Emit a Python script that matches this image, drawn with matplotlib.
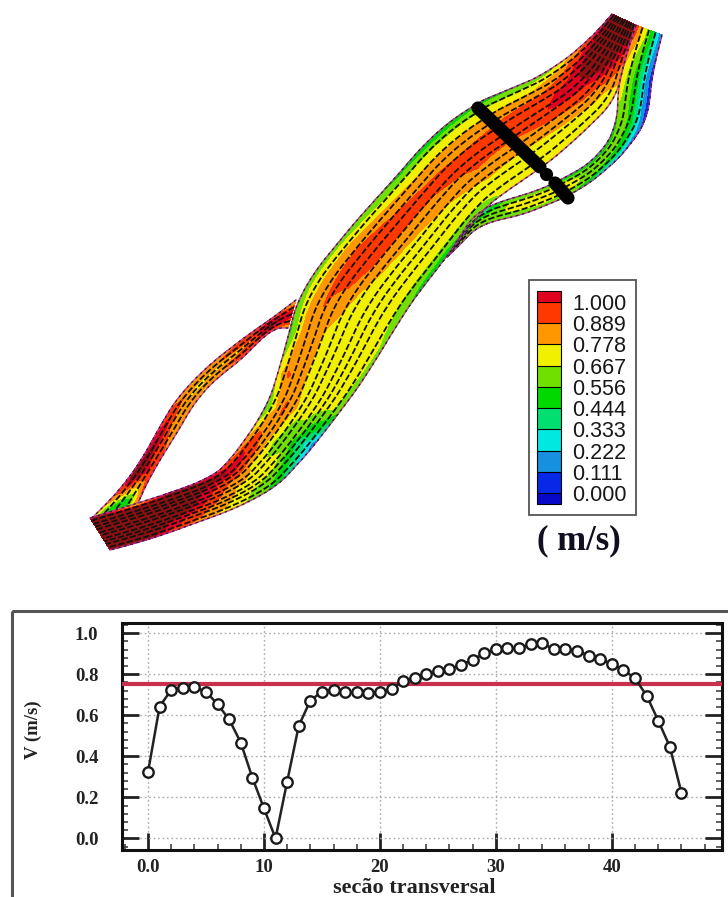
import matplotlib
matplotlib.use("Agg")
import matplotlib.pyplot as plt
from matplotlib.colors import ListedColormap, BoundaryNorm
from matplotlib.cm import ScalarMappable
from matplotlib.patches import Rectangle
from matplotlib.ticker import MultipleLocator
import numpy as np

W, H = 728, 897
DPI = 100

# velocity along the transverse section
section_x = np.arange(47)
section_v = [0.322, 0.642, 0.724, 0.735, 0.737, 0.715, 0.654, 0.58, 0.467, 0.296,
             0.146, 0.0, 0.276, 0.548, 0.672, 0.715, 0.724, 0.712, 0.712, 0.707,
             0.715, 0.728, 0.769, 0.78, 0.80, 0.816, 0.824, 0.847, 0.87, 0.902,
             0.924, 0.927, 0.927, 0.948, 0.951, 0.922, 0.922, 0.915, 0.891, 0.875,
             0.85, 0.821, 0.78, 0.696, 0.574, 0.447, 0.223]
mean_v = 0.753
x_ticks = [0, 10, 20, 30, 40]
x_labels = ["0.0", "10", "20", "30", "40"]
y_ticks = [0.0, 0.2, 0.4, 0.6, 0.8, 1.0]

# colour scale
speed_levels = [0.000, 0.111, 0.222, 0.333, 0.444, 0.556, 0.667, 0.778, 0.889, 1.000]
speed_colors = ["#0808c8", "#0828e8", "#1890e0", "#00e8e0", "#00e070", "#00d800",
                "#70e000", "#f0f000", "#ff9800", "#ff3800", "#e00020"]
dark_red = "#8c1010"

# channel banks (image pixels) and speed across each station
main_left = [(612, 14), (587, 43), (547, 73), (520, 85), (490, 97), (477, 103), (433, 133),
             (400, 173), (370, 205), (340, 240), (300, 290), (290, 330), (277, 377),
             (267, 407), (243, 443), (228, 462), (213, 477), (170, 493), (138, 503), (90, 518)]
main_right = [(636, 25), (622, 68), (617, 98), (593, 123), (567, 147), (543, 167), (503, 193),
              (479, 213), (447, 257), (420, 290), (400, 320), (385, 345), (360, 385),
              (345, 405), (313, 447), (297, 465), (267, 497), (185, 527), (148, 540), (110, 550)]
main_speed = [[1.2, 1.2, 1.2, 1.2, 1.2, 1.2, 1.2, 1.2, 1.2],
              [.85, 1.05, 1.15, 1.2, 1.2, 1.15, 1.05, .95, .85],
              [.6, .8, .95, 1.05, 1.05, .95, .85, .75, .7],
              [.55, .72, .85, .98, 1.02, .92, .8, .72, .7],
              [.5, .7, .85, .95, .95, .88, .78, .72, .68],
              [.5, .7, .85, .92, .92, .85, .76, .72, .68],
              [.45, .7, .82, .9, .92, .88, .78, .72, .68],
              [.5, .72, .85, .92, .88, .8, .72, .7, .55],
              [.55, .75, .88, .95, .85, .76, .72, .7, .45],
              [.6, .8, .95, .98, .82, .74, .72, .7, .5],
              [.6, .78, .9, .85, .76, .72, .72, .7, .6],
              [.5, .78, .86, .75, .72, .72, .7, .7, .65],
              [.7, .9, .85, .74, .72, .7, .7, .68, .65],
              [.5, .75, .9, .8, .72, .7, .68, .68, .6],
              [.8, .95, .85, .7, .55, .6, .4, .3, .15],
              [.85, 1.05, .95, .75, .72, .75, .6, .45, .3],
              [1.0, 1.1, 1.0, .9, .8, .75, .7, .65, .6],
              [1.1, 1.2, 1.2, 1.2, 1.2, 1.1, 1.0, .95, .85],
              [.6, 1.15, 1.2, 1.2, 1.2, 1.2, 1.2, 1.2, 1.1],
              [1.2, 1.2, 1.2, 1.2, 1.2, 1.2, 1.2, 1.2, 1.2]]

east_left = [(636, 25), (622, 68), (617, 98), (618, 123), (600, 157), (567, 177), (533, 193),
             (503, 200), (477, 212), (465, 228), (447, 257)]
east_right = [(662, 35), (650, 83), (650, 113), (633, 143), (607, 170), (577, 192), (547, 205),
              (517, 217), (480, 223), (462, 243), (447, 257)]
east_speed = [[.95, .8, .6, .35, .1],
              [.78, .62, .5, .25, .02],
              [.7, .6, .5, .25, .02],
              [.5, .62, .55, .4, .1],
              [.3, .62, .6, .5, .2],
              [.4, .65, .7, .65, .5],
              [.55, .7, .75, .7, .6],
              [.5, .65, .7, .65, .55],
              [.3, .35, .55, .6, .6],
              [.25, .2, .45, .6, .6],
              [.3, .4, .5, .6, .6]]

west_left = [(296, 300), (270, 320), (240, 340), (187, 383), (160, 425), (133, 477), (92, 518)]
west_right = [(288, 328), (270, 328), (243, 360), (203, 387), (178, 432), (153, 470), (138, 503)]
west_speed = [[.7, .95, 1.05, .95, .8],
              [.9, 1.05, 1.1, 1.05, .9],
              [.85, .95, .7, .95, .85],
              [.75, .8, .72, .8, .75],
              [.95, 1.05, .9, .85, .8],
              [1.05, 1.2, 1.05, 1.0, .95],
              [.7, .5, .4, .5, .9]]

# the measured section across the channel
section_line_x = [478, 540]
section_line_y = [108, 167]
section_knob = (546, 174)
section_end_x = [555, 568]
section_end_y = [183, 198]


def fine(a, n, axis):
    # refine the station table so the bands come out curved
    a = np.asarray(a, float)
    old = np.arange(a.shape[axis])
    new = np.linspace(0, a.shape[axis] - 1, (a.shape[axis] - 1) * n + 1)
    return np.apply_along_axis(lambda c: np.interp(new, old, c), axis, a)


def smooth(a, k=5):
    pad = np.pad(a, ((k, k), (0, 0)), mode="edge")
    w = np.ones(2 * k + 1) / (2 * k + 1)
    out = np.apply_along_axis(lambda c: np.convolve(c, w, mode="valid"), 0, pad)
    out[0], out[-1] = a[0], a[-1]
    return out


def ribbon(ax, left, right, speed, nlines):
    left = smooth(fine(left, 8, 0))
    right = smooth(fine(right, 8, 0))
    v = fine(fine(speed, 8, 0), 6, 1)
    t = np.linspace(0, 1, v.shape[1])[:, None]
    X = (left[:, 0] * (1 - t) + right[:, 0] * t).T
    Y = (left[:, 1] * (1 - t) + right[:, 1] * t).T
    ax.contourf(X, Y, v, levels=speed_levels + [1.08], extend="both",
                colors=speed_colors + [dark_red])
    for c in range(1, nlines + 1):
        j = int(round(c * (v.shape[1] - 1) / (nlines + 1)))
        ax.plot(X[:, j], Y[:, j], color="#101010", lw=1.3, dashes=(3.5, 1.3))
    for j in (0, -1):
        ax.plot(X[:, j], Y[:, j], color="#c030b0", lw=1.1, alpha=0.8)
        ax.plot(X[:, j], Y[:, j], color="#302020", lw=0.9, dashes=(2, 3))


fig = plt.figure(figsize=(W / DPI, H / DPI), dpi=DPI)

# whole-figure axes in image pixels for the map and the frames
bg = fig.add_axes([0, 0, 1, 1])
bg.set_xlim(0, W)
bg.set_ylim(H, 0)
bg.axis("off")

ribbon(bg, east_left, east_right, east_speed, 3)
ribbon(bg, west_left, west_right, west_speed, 3)
ribbon(bg, main_left, main_right, main_speed, 10)

bg.plot(section_line_x, section_line_y, color="black", lw=9.5, solid_capstyle="round")
bg.plot(section_end_x, section_end_y, color="black", lw=9.5, solid_capstyle="round")
bg.plot(*section_knob, "o", color="black", ms=8.5)

bg.add_patch(Rectangle((529, 280), 107, 235, fc="white", ec="#555555", lw=1.3))
bg.add_patch(Rectangle((12, 611), 760, 340, fc="none", ec="#555555", lw=2.2))
bg.text(579, 541, "( m/s)", family="Liberation Serif", weight="bold", fontsize=25,
        ha="center", va="center", color="#101020")

# colour bar
cax = fig.add_axes([537 / W, 1 - 504 / H, 24 / W, 213 / H])
cmap = ListedColormap(speed_colors[1:-1])
cmap.set_under(speed_colors[0])
cmap.set_over(speed_colors[-1])
cb = fig.colorbar(ScalarMappable(norm=BoundaryNorm(speed_levels, cmap.N), cmap=cmap), cax=cax,
                  extend="both", extendrect=True, extendfrac=0.057, spacing="uniform",
                  ticks=speed_levels, format="%.3f", drawedges=True)
cb.ax.tick_params(length=0, pad=8, labelsize=15.5)
for lab in cb.ax.get_yticklabels():
    lab.set_family("Liberation Sans")
    lab.set_color("#181818")
cb.outline.set_linewidth(0.8)
cb.dividers.set_linewidth(0.8)

# velocity chart
ax = fig.add_axes([122 / W, 1 - 850 / H, 600 / W, 227 / H])
ax.set_xlim(-2.24, 49.5)
ax.set_ylim(-0.057, 1.05)
ax.grid(True, which="major", color="#aaaaaa", lw=1.0, ls=(0, (1.2, 2)))
ax.axhline(mean_v, color="#c8304c", lw=3, zorder=3)
ax.plot(section_x, section_v, color="#222222", lw=1.8, marker="o", ms=7.5, mfc="white",
        mec="#1a1a1a", mew=1.7, zorder=4, clip_on=False)

ax.set_xticks(x_ticks)
ax.set_xticklabels(x_labels)
ax.set_yticks(y_ticks)
ax.set_yticklabels(["%.1f" % v for v in y_ticks])
ax.xaxis.set_minor_locator(MultipleLocator(2))
ax.yaxis.set_minor_locator(MultipleLocator(0.04))
ax.tick_params(which="major", direction="in", length=12, width=2, right=True, top=False,
               color="#222222")
ax.tick_params(which="minor", direction="in", length=4.5, width=1.2, right=True, top=False,
               color="#444444")
ax.tick_params(axis="y", which="major", pad=17)
ax.tick_params(axis="x", which="major", pad=6.5)
for lab in ax.get_xticklabels() + ax.get_yticklabels():
    lab.set_family("Liberation Serif")
    lab.set_weight("bold")
    lab.set_fontsize(13.5)
    lab.set_color("#222222")
for s in ax.spines.values():
    s.set_linewidth(2.2)
    s.set_color("#111111")

bg.text(414, 888, "secão transversal", family="Liberation Serif", weight="bold",
        fontsize=16, ha="center", va="center", color="#222222")
bg.text(33, 730, "V (m/s)", family="Liberation Serif", weight="bold", fontsize=13.5,
        rotation=90, ha="center", va="center", color="#222222")

fig.savefig("out.png", dpi=DPI)
